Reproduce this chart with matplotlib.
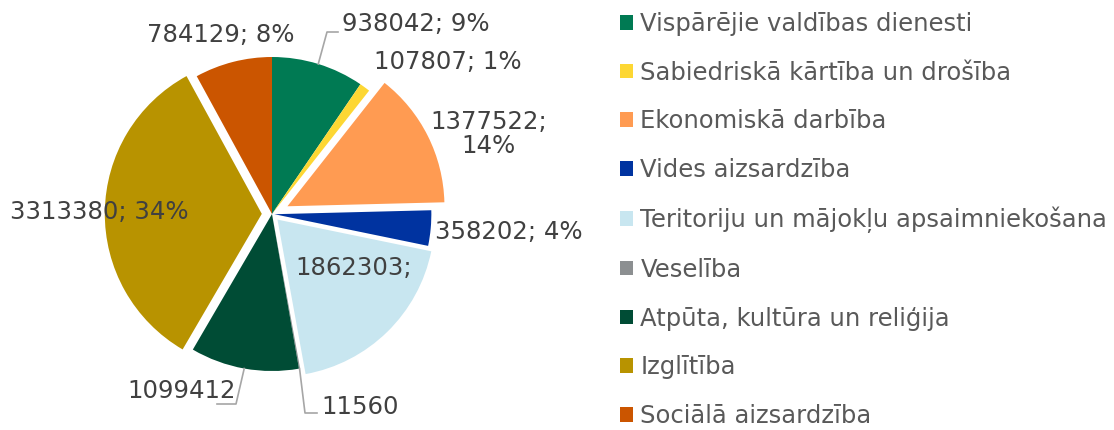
"""Pie chart of municipal budget expenditure by function."""
import matplotlib
matplotlib.use("Agg")
import matplotlib.pyplot as plt
from matplotlib.patches import Patch
import numpy as np

categories = [
    "Vispārējie valdības dienesti",
    "Sabiedriskā kārtība un drošība",
    "Ekonomiskā darbība",
    "Vides aizsardzība",
    "Teritoriju un mājokļu apsaimniekošana",
    "Veselība",
    "Atpūta, kultūra un reliģija",
    "Izglītība",
    "Sociālā aizsardzība",
]
values = [938042, 107807, 1377522, 358202, 1862303, 11560, 1099412, 3313380, 784129]
percents = [9, 1, 14, 4, 19, 0, 11, 34, 8]

colors = ["#007a53", "#fdd733", "#ff9b52", "#0033a0", "#c8e6f0",
          "#8c8f91", "#004c35", "#b89300", "#cb5500"]
explode = [0, 0, 0.11, 0.015, 0.05, 0, 0, 0.065, 0]

# how each data label is written (Excel cut some of them short)
label_fmt = ["{v}; {p}%", "{v}; {p}%", "{v};\n{p}%", "{v}; {p}%", "{v};",
             "{v}", "{v}", "{v}; {p}%", "{v}; {p}%"]
# label anchor in pixels (x, y, horizontal alignment)
label_pos = [(342, 24, "left"), (374, 62, "left"), (489, 134, "center"),
             (435, 232, "left"), (295, 268, "left"), (321, 407, "left"),
             (236, 391, "right"), (10, 212, "left"), (147, 35, "left")]
# leader line bends in pixels, None where the label sits next to its slice
leaders = [[(327, 32), (338, 32)], None, None, None, None,
           [(305, 413), (317, 413)], [(236, 404), (217, 404)], None, None]

W, H = 1114, 430
cx, cy, R = 272, 214, 157

fig = plt.figure(figsize=(W / 100, H / 100), dpi=100)
ax = fig.add_axes([0, 0, 1, 1])

wedges, _ = ax.pie(values, colors=colors, explode=explode, startangle=90,
                   counterclock=False, radius=1.0, wedgeprops=dict(linewidth=0))
ax.set_xlim(-cx / R, (W - cx) / R)
ax.set_ylim(-(H - cy) / R, cy / R)
ax.set_aspect("auto")
ax.axis("off")


def px(p):
    return ((p[0] - cx) / R, (cy - p[1]) / R)


for i, w in enumerate(wedges):
    text = label_fmt[i].format(v=values[i], p=percents[i])
    x, y = px(label_pos[i][:2])
    ax.text(x, y, text, ha=label_pos[i][2], va="center", fontsize=17.6,
            color="#404040", linespacing=1.0)
    if leaders[i] is not None:
        mid = np.deg2rad((w.theta1 + w.theta2) / 2)
        start = (w.center[0] + w.r * np.cos(mid), w.center[1] + w.r * np.sin(mid))
        pts = [start] + [px(p) for p in leaders[i]]
        ax.plot([p[0] for p in pts], [p[1] for p in pts], color="#a6a6a6", lw=1.2)

handles = [Patch(facecolor=c, edgecolor="none") for c in colors]
fig.legend(handles, categories, loc="upper left",
           bbox_to_anchor=(620 / W, 1 - 12 / H), frameon=False, fontsize=17.5,
           handlelength=0.54, handleheight=0.54, handletextpad=0.3,
           labelspacing=1.015, borderpad=0, borderaxespad=0, labelcolor="#595959")

fig.savefig("out.png", dpi=100)
